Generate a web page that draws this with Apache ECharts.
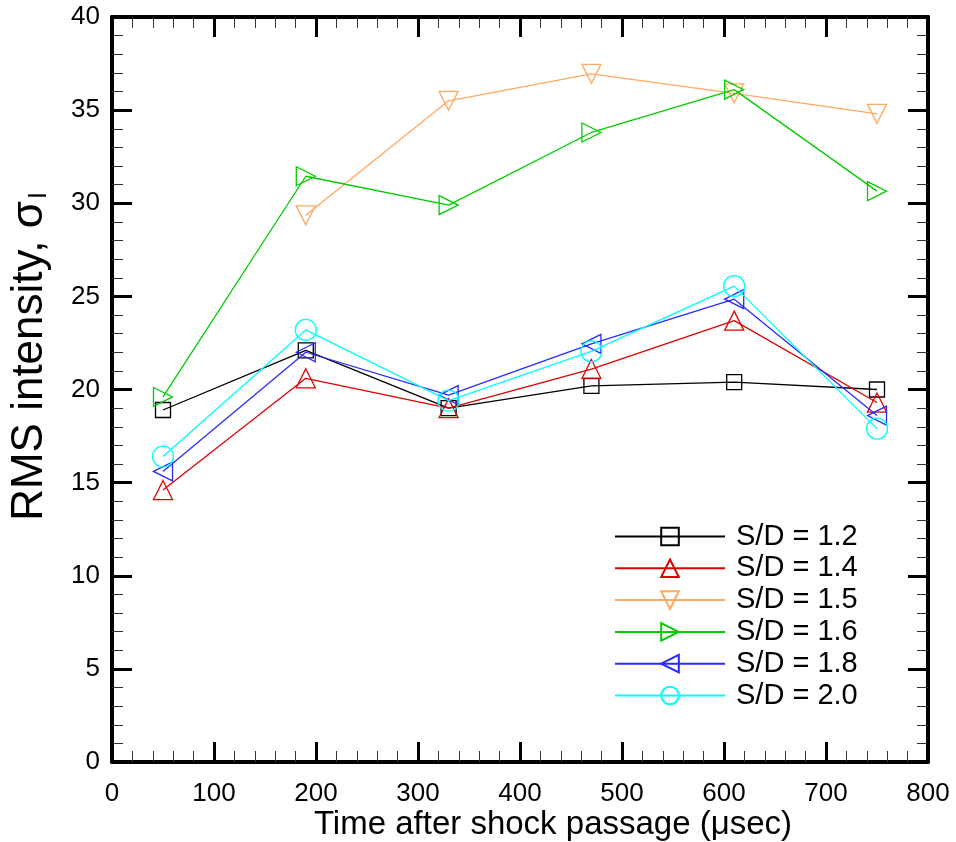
<!DOCTYPE html>
<html>
<head>
<meta charset="utf-8">
<script src="https://cdn.jsdelivr.net/npm/echarts@6/dist/echarts.min.js"></script>
<style>html,body{margin:0;padding:0;background:#fff}#c{width:956px;height:842px}</style>
</head>
<body>
<div id="c"></div>
<script>
const timeUs = [50, 190, 330, 470, 610, 750];
const sd12 = [18.9, 22.1, 19.0, 20.2, 20.4, 20.0];
const sd14 = [14.6, 20.6, 19.0, 21.1, 23.7, 19.3];
const sd15 = [null, 29.35, 35.5, 36.95, 35.9, 34.8];
const sd16 = [19.6, 31.45, 29.9, 33.8, 36.1, 30.65];
const sd18 = [15.6, 22.0, 19.7, 22.45, 24.85, 18.6];
const sd20 = [16.4, 23.2, 19.4, 22.05, 25.55, 17.9];
const seriesNames = ['S/D = 1.2', 'S/D = 1.4', 'S/D = 1.5', 'S/D = 1.6', 'S/D = 1.8', 'S/D = 2.0'];
const xTicks = { min: 0, max: 800, interval: 100 };
const yTicks = { min: 0, max: 40, interval: 5 };

const styles = [
  { c: '#000000', sym: 'rect', size: 15, rot: 0 },
  { c: '#e00000', sym: 'triangle', size: 19, rot: 0 },
  { c: '#ffa860', sym: 'triangle', size: 19, rot: 180 },
  { c: '#00cc00', sym: 'triangle', size: 19, rot: -90 },
  { c: '#2a2aff', sym: 'triangle', size: 19, rot: 90 },
  { c: '#00ffff', sym: 'circle', size: 21, rot: 0 }
];
const allData = [sd12, sd14, sd15, sd16, sd18, sd20];

const series = allData.map((vals, i) => {
  const pts = [];
  vals.forEach((v, j) => { if (v !== null) pts.push([timeUs[j], v]); });
  const s = styles[i];
  return {
    name: seriesNames[i],
    type: 'line',
    data: pts,
    symbol: s.sym,
    symbolSize: s.size,
    symbolRotate: s.rot,
    showAllSymbol: true,
    animation: false,
    lineStyle: { color: s.c, width: 1.3 },
    itemStyle: { color: 'rgba(255,255,255,0)', borderColor: s.c, borderWidth: 1.3 },
    emphasis: { disabled: true },
    z: 3 + i
  };
});

const font = '"Liberation Sans", Arial, sans-serif';
const axisBase = {
  axisLine: { show: true, onZero: false, lineStyle: { color: '#000', width: 4 } },
  axisTick: { show: true, inside: true, length: 20, lineStyle: { color: '#000', width: 3 } },
  minorTick: { show: true, splitNumber: 5, length: 11, lineStyle: { color: '#333', width: 1 } },
  splitLine: { show: false },
  minorSplitLine: { show: false }
};

const chart = echarts.init(document.getElementById('c'), null, { renderer: 'canvas' });
chart.setOption({
  backgroundColor: '#fff',
  animation: false,
  grid: { left: 112, top: 17, right: 28, bottom: 80, containLabel: false, outerBoundsMode: 'none' },
  legend: {
    orient: 'vertical',
    left: 614,
    top: 522,
    padding: 0,
    itemWidth: 110,
    itemHeight: 22,
    itemGap: 2.8,
    data: seriesNames,
    textStyle: { fontFamily: font, fontSize: 29, lineHeight: 22, color: '#000', padding: [0, 0, 0, 6] },
    selectedMode: false
  },
  xAxis: [
    Object.assign({}, axisBase, {
      type: 'value', position: 'bottom',
      min: xTicks.min, max: xTicks.max, interval: xTicks.interval,
      axisLabel: { fontFamily: font, fontSize: 26, color: '#000', margin: 19 },
      name: 'Time after shock passage (\u03bcsec)',
      nameLocation: 'middle', nameGap: 46, nameMoveOverlap: false,
      nameTextStyle: { fontFamily: font, fontSize: 33, color: '#000', padding: [0, 0, 0, 66] }
    }),
    Object.assign({}, axisBase, {
      type: 'value', position: 'top',
      min: xTicks.min, max: xTicks.max, interval: xTicks.interval,
      axisLabel: { show: false }
    })
  ],
  yAxis: [
    Object.assign({}, axisBase, {
      type: 'value', position: 'left',
      min: yTicks.min, max: yTicks.max, interval: yTicks.interval,
      axisLabel: { fontFamily: font, fontSize: 26, color: '#000', margin: 12 },
      name: 'RMS intensity, \u03c3{sub|I}',
      nameLocation: 'middle', nameGap: 60, nameMoveOverlap: false,
      nameTextStyle: {
        fontFamily: font, fontSize: 44, color: '#000', padding: [0, 0, 0, 66],
        rich: { sub: { fontFamily: font, fontSize: 25, color: '#000', verticalAlign: 'bottom', padding: [19, 0, 0, 2] } }
      }
    }),
    Object.assign({}, axisBase, {
      type: 'value', position: 'right',
      min: yTicks.min, max: yTicks.max, interval: yTicks.interval,
      axisLabel: { show: false }
    })
  ],
  series: series
});
</script>
</body>
</html>
